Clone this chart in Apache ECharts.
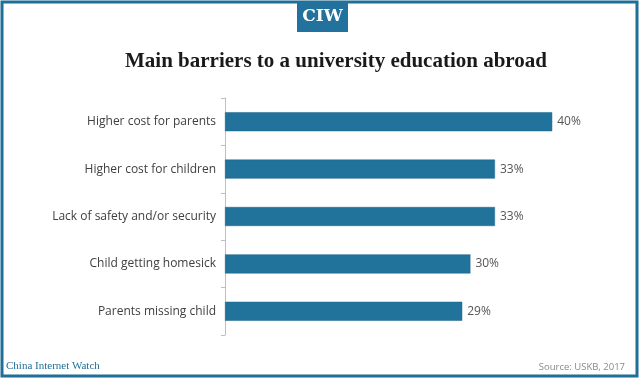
<!DOCTYPE html>
<html><head><meta charset="utf-8">
<script src="https://cdn.jsdelivr.net/npm/echarts@6/dist/echarts.min.js"></script>
<style>html,body{margin:0;padding:0;background:#fff;}#c{width:640px;height:379px;}</style>
</head><body><div id="c"></div>
<script>
const categories = ["Higher cost for parents","Higher cost for children","Lack of safety and/or security","Child getting homesick","Parents missing child"];
const values = [40,33,33,30,29];
const titleText = "Main barriers to a university education abroad";
const brand = "CIW";
const footerLeft = "China Internet Watch";
const footerRight = "Source: USKB, 2017";

const blue = "#21739c";
const chart = echarts.init(document.getElementById('c'));
chart.setOption({
  animation:false,
  backgroundColor:'#fff',
  grid:{left:225,top:98,width:409,height:237,containLabel:false},
  xAxis:{type:'value',min:0,max:50,show:false},
  yAxis:{type:'category',data:categories,inverse:true,
    axisLine:{show:true,lineStyle:{color:'#bfbfbf'}},
    axisTick:{show:true,length:4,lineStyle:{color:'#bfbfbf'}},
    axisLabel:{color:'#404040',fontFamily:'Open Sans',fontSize:12,margin:9}},
  series:[{type:'bar',data:values,barWidth:19,
    itemStyle:{color:blue,borderColor:'#1a6088',borderWidth:0.5},
    label:{show:true,position:'right',distance:5,formatter:'{c}%',
      color:'#555',fontFamily:'Open Sans',fontSize:12}}],
  graphic:[
    {type:'rect',shape:{x:2,y:2,width:635,height:374},style:{fill:'none',stroke:'#1f6f98',lineWidth:3},silent:true},
    {type:'rect',shape:{x:297,y:2,width:51,height:30},style:{fill:'#23729e'}},
    {type:'text',x:322.5,y:17,style:{text:brand,fill:'#fff',fontFamily:'DejaVu Serif',fontWeight:'bold',fontSize:17,align:'center',verticalAlign:'middle'}},
    {type:'text',x:336,y:62,style:{text:titleText,fill:'#1a1a1a',fontFamily:'Liberation Serif',fontWeight:'bold',fontSize:21,align:'center',verticalAlign:'middle'}},
    {type:'text',x:6,y:366,style:{text:footerLeft,fill:'#1f6f98',fontFamily:'Liberation Serif',fontSize:11,verticalAlign:'middle'}},
    {type:'text',x:625,y:367,style:{text:footerRight,fill:'#888',fontFamily:'Open Sans',fontSize:9.5,align:'right',verticalAlign:'middle'}}
  ]
});
</script></body></html>
